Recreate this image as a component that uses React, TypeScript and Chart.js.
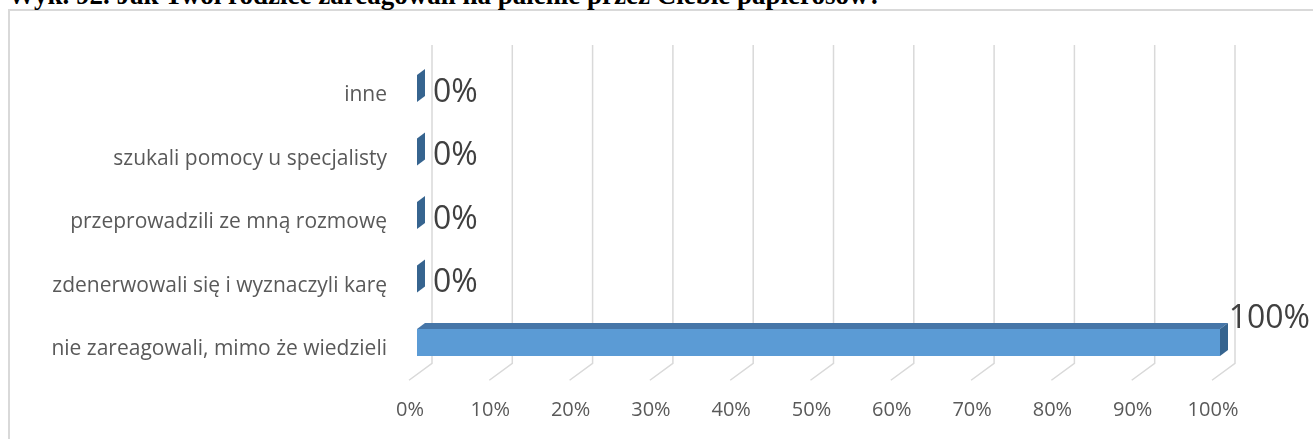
import React, { useEffect, useRef } from "react";
import { Chart, registerables } from "chart.js";

Chart.register(...registerables);

const TITLE = "Wyk. 92. Jak Twoi rodzice zareagowali na palenie przez Ciebie papierosów?";
const categories = [
  "inne",
  "szukali pomocy u specjalisty",
  "przeprowadzili ze mną rozmowę",
  "zdenerwowali się i wyznaczyli karę",
  "nie zareagowali, mimo że wiedzieli",
];
const values = [0, 0, 0, 0, 100];
const xTicks = [0, 10, 20, 30, 40, 50, 60, 70, 80, 90, 100];

const FONT = "'Open Sans', sans-serif";
const DX = 8; // bar depth x
const DY = 6; // bar depth y
const WALL_DX = 15;
const WALL_DY = 11;
const FLOOR_DX = 8;
const FLOOR_DY = 6;
const GRID_TOP = 45;

const threeD = {
  id: "threeD",
  beforeDatasetsDraw(chart: any) {
    const ctx = chart.ctx;
    const xs = chart.scales.x;
    const area = chart.chartArea;
    ctx.save();
    ctx.strokeStyle = "#D9D9D9";
    ctx.lineWidth = 1.5;
    xTicks.forEach((t) => {
      const xf = xs.getPixelForValue(t);
      const xb = xf + WALL_DX;
      const yb = area.bottom - WALL_DY;
      ctx.beginPath();
      ctx.moveTo(xb, GRID_TOP);
      ctx.lineTo(xb, yb);
      ctx.lineTo(xf - FLOOR_DX, area.bottom + FLOOR_DY);
      ctx.stroke();
    });
    ctx.restore();
  },
  afterDatasetsDraw(chart: any) {
    const ctx = chart.ctx;
    const meta = chart.getDatasetMeta(0);
    const W = chart.width;
    ctx.save();
    meta.data.forEach((bar: any, i: number) => {
      const { x, y, base, height } = bar.getProps(["x", "y", "base", "height"], true);
      const top = y - height / 2;
      const bottom = y + height / 2;
      // top face
      if (x - base > 0.5) {
        ctx.fillStyle = "#4676A8";
        ctx.beginPath();
        ctx.moveTo(base, top);
        ctx.lineTo(base + DX, top - DY);
        ctx.lineTo(x + DX, top - DY);
        ctx.lineTo(x, top);
        ctx.closePath();
        ctx.fill();
      }
      // side face
      ctx.fillStyle = "#36648F";
      ctx.beginPath();
      ctx.moveTo(x, top);
      ctx.lineTo(x + DX, top - DY);
      ctx.lineTo(x + DX, bottom - DY);
      ctx.lineTo(x, bottom);
      ctx.closePath();
      ctx.fill();

      // data label
      const label = values[i] + "%";
      ctx.font = `32px ${FONT}`;
      ctx.fillStyle = "#404040";
      ctx.textBaseline = "middle";
      ctx.textAlign = "left";
      const w = ctx.measureText(label).width;
      let lx = x + DX + 8;
      let ly = y + 4;
      if (lx + w > W - 2) {
        lx = W - 3 - w;
        ly = y - 24;
      }
      ctx.fillText(label, lx, ly);
    });
    ctx.restore();
  },
};

export default function App() {
  const ref = useRef<HTMLCanvasElement>(null);
  useEffect(() => {
    if (!ref.current) return;
    const chart = new Chart(ref.current, {
      type: "bar",
      data: {
        labels: categories,
        datasets: [
          {
            data: values,
            backgroundColor: "#5B9BD5",
            borderWidth: 0,
            barPercentage: 0.85,
            categoryPercentage: 0.5,
          },
        ],
      },
      plugins: [threeD],
      options: {
        indexAxis: "y",
        animation: false,
        responsive: false,
        maintainAspectRatio: false,
        layout: { padding: { left: 0, right: 93, top: 56.75, bottom: 0 } },
        plugins: {
          legend: { display: false },
          tooltip: { enabled: false },
          title: { display: false },
        },
        scales: {
          x: {
            min: 0,
            max: 100,
            afterFit: (s: any) => {
              s.height = 64.75;
            },
            afterBuildTicks: (s: any) => {
              s.ticks = xTicks.map((v) => ({ value: v }));
            },
            grid: { display: false, drawTicks: false },
            border: { display: false },
            ticks: {
              font: { family: FONT, size: 20 },
              color: "#595959",
              padding: 24,
              labelOffset: -7,
              callback: (v: any) => v + "%",
            },
          },
          y: {
            afterFit: (s: any) => {
              s.width = 417;
            },
            grid: { display: false, drawTicks: false },
            border: { display: false },
            ticks: {
              font: { family: FONT, size: 21 },
              color: "#595959",
              padding: 30,
              labelOffset: 7,
            },
          },
        },
      },
    });
    return () => chart.destroy();
  }, []);

  return (
    <div style={{ position: "absolute", left: 0, top: 0, width: 1313, height: 439, overflow: "hidden", background: "#fff" }}>
      <div
        style={{
          position: "absolute",
          left: 8,
          top: 9,
          width: 1400,
          height: 500,
          border: "2px solid #D9D9D9",
          boxSizing: "border-box",
        }}
      />
      <div
        style={{
          position: "absolute",
          left: 8,
          top: -18,
          whiteSpace: "nowrap",
          fontFamily: "'Liberation Serif', 'Times New Roman', serif",
          fontWeight: "bold",
          fontSize: 27,
          lineHeight: "27px",
          color: "#000",
        }}
      >
        {TITLE}
      </div>
      <canvas ref={ref} width={1313} height={439} style={{ position: "absolute", left: 0, top: 0 }} />
    </div>
  );
}
